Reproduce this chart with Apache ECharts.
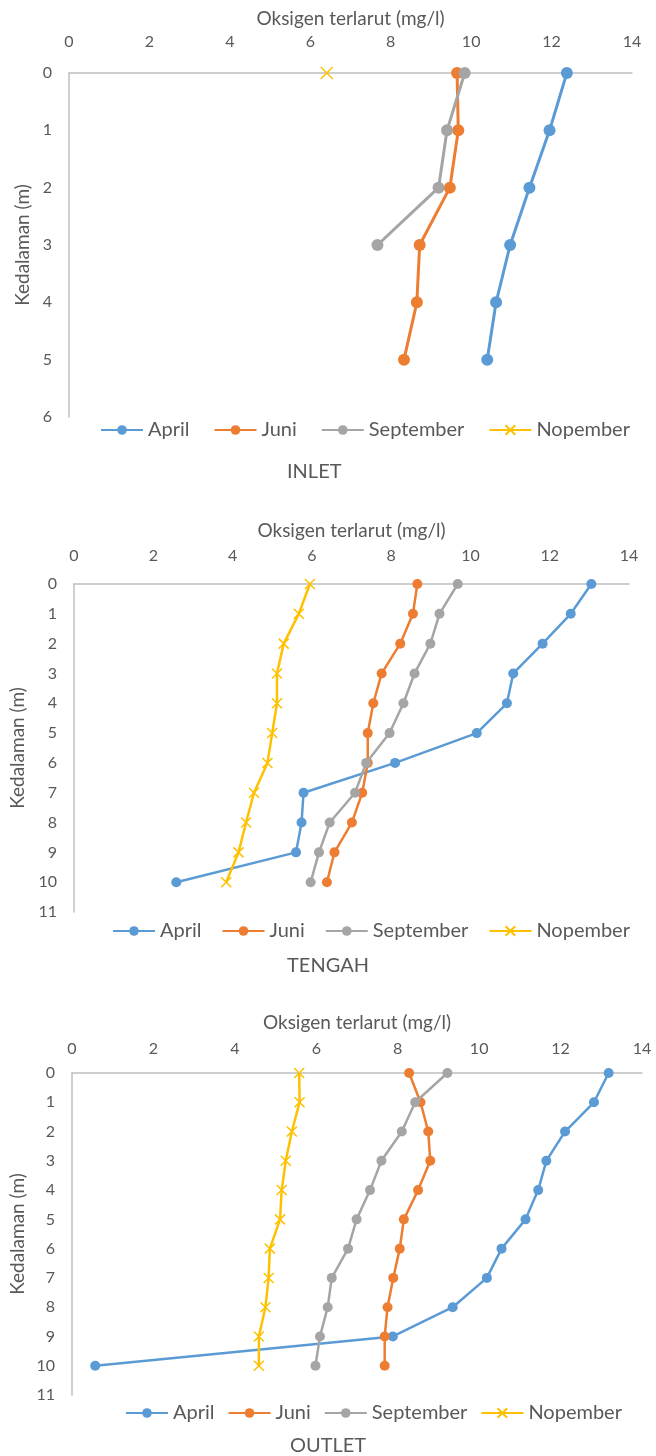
<!DOCTYPE html>
<html><head><meta charset="utf-8">
<script src="https://cdn.jsdelivr.net/npm/echarts@6/dist/echarts.min.js"></script>
<style>html,body{margin:0;padding:0;background:#fff}#c{width:656px;height:1456px}</style>
</head><body><div id="c"></div>
<script>
const seriesNames = ['April','Juni','September','Nopember'];
const colors = ['#5B9BD5','#ED7D31','#A5A5A5','#FFC000'];
const xTicks = [0,2,4,6,8,10,12,14];
const depthInlet = [0,1,2,3,4,5];
const depthTengah = [0,1,2,3,4,5,6,7,8,9,10];
const depthOutlet = [0,1,2,3,4,5,6,7,8,9,10];

const inletApril = [12.38,11.95,11.45,10.97,10.62,10.40];
const inletJuni = [9.65,9.68,9.47,8.72,8.65,8.33];
const inletSeptember = [9.84,9.40,9.19,7.67];
const inletNopember = [6.41];

const tengahApril = [13.05,12.53,11.82,11.08,10.92,10.16,8.10,5.79,5.74,5.60,2.58];
const tengahJuni = [8.66,8.55,8.23,7.76,7.55,7.41,7.41,7.27,7.01,6.57,6.38];
const tengahSeptember = [9.68,9.22,8.99,8.59,8.31,7.96,7.37,7.09,6.45,6.18,5.97];
const tengahNopember = [5.95,5.67,5.29,5.12,5.12,5.00,4.88,4.54,4.34,4.15,3.84];

const outletApril = [13.18,12.82,12.11,11.65,11.45,11.14,10.55,10.19,9.35,7.88,0.57];
const outletJuni = [8.28,8.56,8.75,8.80,8.50,8.15,8.05,7.89,7.75,7.68,7.68];
const outletSeptember = [9.22,8.43,8.10,7.60,7.32,6.99,6.78,6.38,6.28,6.09,5.98];
const outletNopember = [5.58,5.59,5.40,5.25,5.15,5.11,4.86,4.83,4.75,4.59,4.59];

const titles = ['INLET','TENGAH','OUTLET'];
const xName = 'Oksigen terlarut (mg/l)';
const yName = 'Kedalaman (m)';
const yMax = [6,11,11];

const panels = [
  [inletApril,inletJuni,inletSeptember,inletNopember, depthInlet],
  [tengahApril,tengahJuni,tengahSeptember,tengahNopember, depthTengah],
  [outletApril,outletJuni,outletSeptember,outletNopember, depthOutlet]
];

const FONT = 'Lato';
const TXT = '#595959';
const AX = '#BFBFBF';
const grids = [
  {left:69, right:24, top:73, height:344},
  {left:69, right:27, top:584, height:328},
  {left:65, right:14, top:1073, height:322}
];
const xNameGap = [45,44,41];
const xLabelMargin = [23,20,16];
const yNameGap = [37,47,45];
const legendTop = [415,916,1398];
const legendLeft = [95,107,120];
const legendGap = [24,20,13];
const titleLeft = [282,'center','center'];
const titleTop = [457,951,1431];
const symSize = [12,10,10];
const lineW = [3,2.5,2.5];
const xSymbol = 'path://M0,0L10,10M10,0L0,10';

const option = {
  animation:false,
  textStyle:{fontFamily:FONT,color:TXT},
  grid: grids,
  title: titles.map((t,i)=>({text:t,left:titleLeft[i],top:titleTop[i],
    textStyle:{fontFamily:FONT,fontSize:20,fontWeight:'normal',color:TXT}})),
  legend: grids.map((g,i)=>({data:seriesNames,left:legendLeft[i],top:legendTop[i],
    itemWidth:42,itemHeight:12,itemGap:legendGap[i],
    textStyle:{fontFamily:FONT,fontSize:20,color:TXT}})),
  xAxis: grids.map((g,i)=>({gridIndex:i,type:'value',position:'top',min:0,max:14,interval:2,
    name:xName,nameLocation:'middle',nameGap:xNameGap[i],nameMoveOverlap:false,
    nameTextStyle:{fontFamily:FONT,fontSize:19,color:TXT},
    axisLine:{show:true,lineStyle:{color:AX,width:1.5}},axisTick:{show:false},
    splitLine:{show:false},
    axisLabel:{margin:xLabelMargin[i],fontFamily:FONT,fontSize:16,color:TXT,
      formatter:v=>xTicks.includes(v)?String(v):''}})),
  yAxis: grids.map((g,i)=>({gridIndex:i,type:'value',inverse:true,min:0,max:yMax[i],interval:1,
    name:yName,nameLocation:'middle',nameGap:yNameGap[i],nameRotate:90,nameMoveOverlap:false,
    nameTextStyle:{fontFamily:FONT,fontSize:19,color:TXT},
    axisLine:{show:true,onZero:false,lineStyle:{color:AX,width:1.5}},axisTick:{show:false},
    splitLine:{show:false},
    axisLabel:{margin:17,fontFamily:FONT,fontSize:16,color:TXT}})),
  series: []
};

panels.forEach((p,i)=>{
  const depth = p[4];
  for(let s=0;s<4;s++){
    const vals = p[s];
    const isX = s===3;
    option.series.push({
      name:seriesNames[s], type:'line', xAxisIndex:i, yAxisIndex:i,
      data: vals.map((v,k)=>[v,depth[k]]),
      color:colors[s],
      symbol: isX ? xSymbol : 'circle',
      symbolSize: symSize[i],
      showAllSymbol:true,
      lineStyle:{width:lineW[i],color:colors[s]},
      itemStyle: isX ? {color:colors[s],borderColor:colors[s],borderWidth:1.5} : {color:colors[s]},
      z: 2+s
    });
  }
});

const chart = echarts.init(document.getElementById('c'),null,{renderer:'canvas'});
chart.setOption(option);
</script></body></html>
